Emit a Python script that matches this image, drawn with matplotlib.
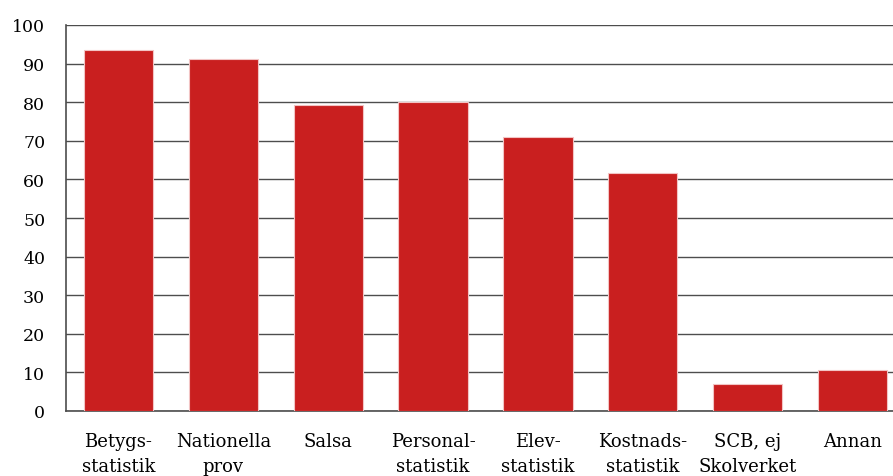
#!/usr/bin/env python3

import matplotlib
matplotlib.use('Agg')
import matplotlib.pyplot as plt

categories = ['Betygs-\nstatistik', 'Nationella\nprov', 'Salsa',
              'Personal-\nstatistik', 'Elev-\nstatistik', 'Kostnads-\nstatistik',
              'SCB, ej\nSkolverket', 'Annan']
values = [93.5, 91.2, 79.3, 80.1, 71.0, 61.7, 7.0, 10.6]
yticks = list(range(0, 101, 10))


def main():
    plt.rcParams['font.family'] = ['DejaVu Serif']
    fig = plt.figure(figsize=(8.93, 4.77), dpi=100)
    # axes runs past the right edge of the figure, as in the original
    ax = fig.add_axes([66 / 893, 65 / 477, 839 / 893, 386 / 477])

    x = list(range(len(categories)))
    ax.bar(x, values, width=0.66, color='#c91f1f', edgecolor='#f2c4c4',
           linewidth=0.8, zorder=3)

    ax.set_xlim(-0.5, len(categories) - 0.5)
    ax.set_ylim(0, 100)
    ax.set_yticks(yticks)
    ax.set_xticks(x)
    ax.set_xticklabels(categories, fontsize=13, linespacing=1.5)
    ax.tick_params(axis='y', labelsize=12.5, length=0, pad=15)
    ax.tick_params(axis='x', length=0, pad=15)
    ax.grid(axis='y', color='#4d4d4d', linewidth=1.0, zorder=0)

    for side in ['top', 'right']:
        ax.spines[side].set_visible(False)
    for side in ['left', 'bottom']:
        ax.spines[side].set_color('#4d4d4d')
        ax.spines[side].set_linewidth(1.2)

    fig.savefig('out.png', dpi=100)


if __name__ == '__main__':
    main()
